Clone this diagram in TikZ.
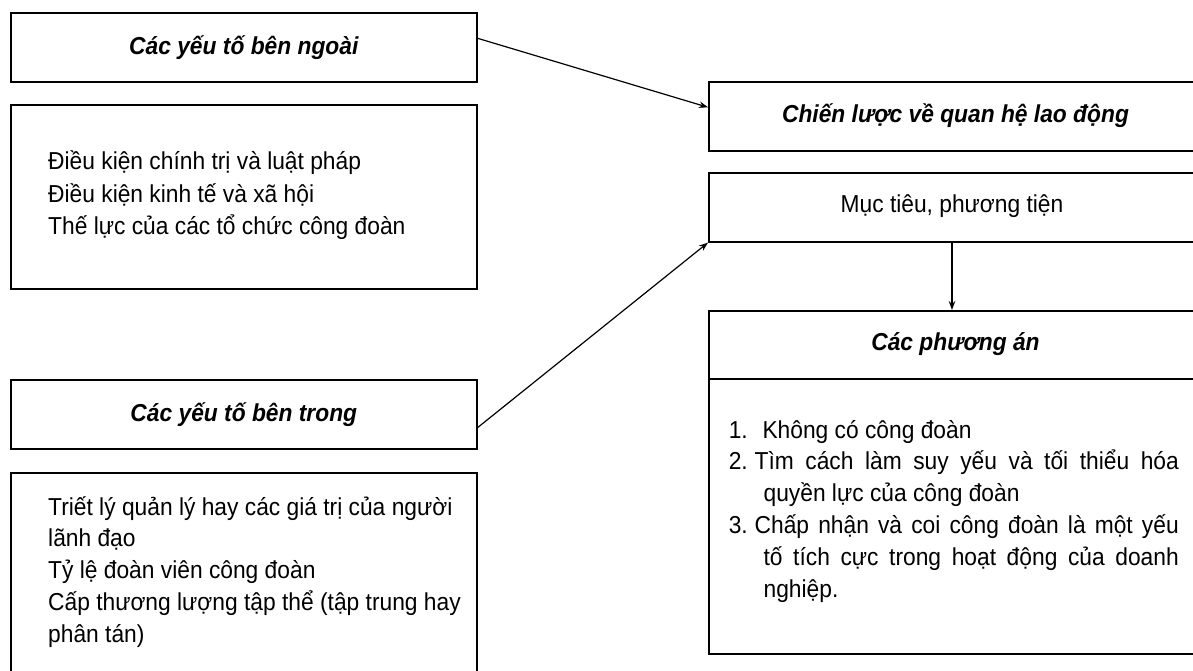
\documentclass[tikz,border=0pt]{standalone}
\usepackage{fontspec}
\setmainfont{Liberation Sans}[FakeStretch=0.93]
\usetikzlibrary{arrows.meta}
\begin{document}
\begin{tikzpicture}[x=1pt,y=-1pt,
  box/.style={draw, line width=1.6pt, rectangle, inner sep=0pt, anchor=north west},
  ttl/.style={font=\fontsize{24.5}{28}\selectfont\bfseries\itshape, inner sep=0pt},
  plain/.style={font=\fontsize{24.5}{28}\selectfont, inner sep=0pt},
  body/.style={font=\fontsize{24.5}{31.8}\selectfont, inner sep=0pt, anchor=base west},
  arr/.style={line width=1.2pt, -{Stealth[length=9pt,width=6.5pt]}}]
\useasboundingbox (0,0) rectangle (1193,671);
\clip (0,0) rectangle (1193,671);
% left column
\node[box, minimum width=466, minimum height=69] (A) at (10,12) {};
\node[ttl] (At) at (A.center) {Các yếu tố bên ngoài};
\node[box, minimum width=466, minimum height=184] (B) at (10,104) {};
\node[body, font=\fontsize{24.5}{32.5}\selectfont] (Bt) at (48,170) {\parbox[t]{420pt}{Điều kiện chính trị và luật pháp\\
Điều kiện kinh tế và xã hội\\
Thế lực của các tổ chức công đoàn}};
\node[box, minimum width=466, minimum height=69] (C) at (10,379) {};
\node[ttl] (Ct) at (C.center) {Các yếu tố bên trong};
\node[box, minimum width=466, minimum height=260] (D) at (10,472) {};
\node[body] (Dt) at (48,515) {\parbox[t]{425pt}{Triết lý quản lý hay các giá trị của người\\
lãnh đạo\\
Tỷ lệ đoàn viên công đoàn\\
Cấp thương lượng tập thể (tập trung hay\\
phân tán)}};
% right column
\node[box, minimum width=520, minimum height=69] (E) at (708,81) {};
\node[ttl] (Et) at (955.5,115.5) {Chiến lược về quan hệ lao động};
\node[box, minimum width=520, minimum height=69] (F) at (708,172) {};
\node[plain] (Ft) at (952,206.5) {Mục tiêu, phương tiện};
\node[box, minimum width=520, minimum height=68] (Gh) at (708,310) {};
\node[ttl] (Gt) at (955.5,344) {Các phương án};
\node[box, minimum width=520, minimum height=275] (Gb) at (708,378) {};
\node[body] (Gl) at (728.6,438) {\parbox[t]{460pt}{1.\hspace{0.6em}Không có công đoàn\\
\makebox[450pt][s]{2.\hspace{0.28em}Tìm cách làm suy yếu và tối thiểu hóa}\\
\hspace*{34.8pt}quyền lực của công đoàn\\
\makebox[450pt][s]{3.\hspace{0.28em}Chấp nhận và coi công đoàn là một yếu}\\
\hspace*{34.8pt}\makebox[415.2pt][s]{tố tích cực trong hoạt động của doanh}\\
\hspace*{34.8pt}nghiệp.}};
% connectors
\draw[arr] ([yshift=9pt]A.east) -- ([yshift=9pt]E.west);
\draw[arr] ([yshift=-13.3pt]C.east) -- (F.south west);
\draw[arr] (Ft |- F.south) -- (Ft |- Gh.north);
\end{tikzpicture}
\end{document}
